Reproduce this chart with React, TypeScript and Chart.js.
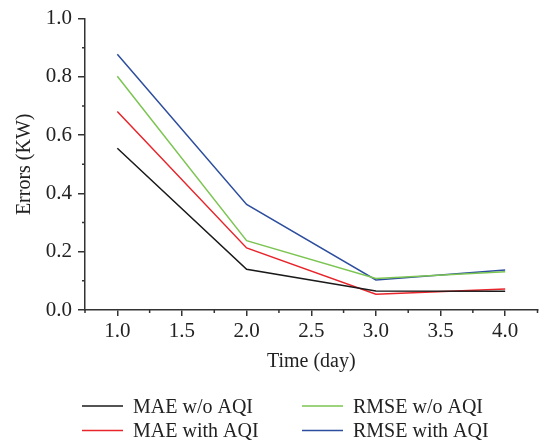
import React, { useEffect, useRef } from 'react';
import { Chart, registerables } from 'chart.js';

Chart.register(...registerables);

// ---- data ----
const days = [1, 2, 3, 4];
const maeWithoutAqi = [0.555, 0.14, 0.065, 0.064];
const maeWithAqi = [0.681, 0.213, 0.054, 0.072];
const rmseWithoutAqi = [0.802, 0.238, 0.108, 0.131];
const rmseWithAqi = [0.878, 0.362, 0.103, 0.137];

const seriesLabels = ['MAE w/o AQI', 'MAE with AQI', 'RMSE w/o AQI', 'RMSE with AQI'];
const seriesColors = ['#1a1a1a', '#e8252b', '#7cc552', '#2d4e9e'];

const xMajorTicks = [1, 1.5, 2, 2.5, 3, 3.5, 4];
const xMinorTicks = [0.75, 1.25, 1.75, 2.25, 2.75, 3.25, 3.75, 4.25];
const yMajorTicks = [0, 0.2, 0.4, 0.6, 0.8, 1.0];
const yMinorTicks = [0.1, 0.3, 0.5, 0.7, 0.9];

const xTitle = 'Time (day)';
const yTitle = 'Errors (KW)';

const FONT_FAMILY = '"Liberation Serif", "Times New Roman", Times, serif';
const AXIS_COLOR = '#333333';
const TEXT_COLOR = '#222222';

const minorTicksPlugin = {
  id: 'minorTicks',
  afterDraw(chart: any) {
    const { ctx, scales } = chart;
    const xs = scales.x;
    const ys = scales.y;
    ctx.save();
    ctx.strokeStyle = AXIS_COLOR;
    ctx.lineWidth = 1.5;
    ctx.beginPath();
    xMinorTicks.forEach((v) => {
      const px = xs.getPixelForValue(v);
      ctx.moveTo(px, ys.bottom);
      ctx.lineTo(px, ys.bottom + 3);
    });
    yMinorTicks.forEach((v) => {
      const py = ys.getPixelForValue(v);
      ctx.moveTo(xs.left - 3, py);
      ctx.lineTo(xs.left, py);
    });
    ctx.stroke();
    ctx.restore();
  },
};

const gridLegendPlugin = {
  id: 'gridLegend',
  afterDraw(chart: any) {
    const { ctx, chartArea } = chart;
    const datasets = chart.data.datasets;
    const colX = [chartArea.left - 3, chartArea.left + 217];
    const rowY = [406, 430.5];
    const lineLen = 41;
    const gap = 10;
    ctx.save();
    ctx.font = `20px ${FONT_FAMILY}`;
    ctx.fillStyle = TEXT_COLOR;
    ctx.textAlign = 'left';
    ctx.textBaseline = 'alphabetic';
    datasets.forEach((ds: any, i: number) => {
      const col = Math.floor(i / 2);
      const row = i % 2;
      const x = colX[col];
      const y = rowY[row];
      ctx.strokeStyle = ds.borderColor;
      ctx.lineWidth = 1.5;
      ctx.beginPath();
      ctx.moveTo(x, y);
      ctx.lineTo(x + lineLen, y);
      ctx.stroke();
      ctx.fillText(ds.label, x + lineLen + gap, y + 6.5);
    });
    ctx.restore();
  },
};

export default function App() {
  const canvasRef = useRef<HTMLCanvasElement | null>(null);

  useEffect(() => {
    if (!canvasRef.current) return;
    const seriesValues = [maeWithoutAqi, maeWithAqi, rmseWithoutAqi, rmseWithAqi];
    const datasets = seriesValues.map((vals, i) => ({
      label: seriesLabels[i],
      data: days.map((d, j) => ({ x: d, y: vals[j] })),
      borderColor: seriesColors[i],
      backgroundColor: seriesColors[i],
      borderWidth: 1.5,
      pointRadius: 0,
      tension: 0,
      fill: false,
    }));

    const tickFont = { family: FONT_FAMILY, size: 21 };

    const chart = new Chart(canvasRef.current, {
      type: 'line',
      data: { datasets },
      options: {
        animation: false,
        responsive: true,
        maintainAspectRatio: false,
        layout: { padding: { left: 0, right: 2.5, top: 13.5, bottom: 70 } },
        plugins: {
          legend: { display: false },
          tooltip: { enabled: false },
        },
        scales: {
          x: {
            type: 'linear',
            min: 0.75,
            max: 4.25,
            afterBuildTicks: (scale: any) => {
              scale.ticks = xMajorTicks.map((v) => ({ value: v }));
            },
            afterFit: (scale: any) => {
              scale.height = 64;
            },
            ticks: {
              font: tickFont,
              color: TEXT_COLOR,
              padding: 3,
              maxRotation: 0,
              autoSkip: false,
              callback: (v: any) => Number(v).toFixed(1),
            },
            grid: {
              display: true,
              drawOnChartArea: false,
              drawTicks: true,
              tickLength: 6,
              color: AXIS_COLOR,
              lineWidth: 1.5,
            },
            border: { display: true, color: AXIS_COLOR, width: 1.5 },
            title: {
              display: true,
              text: xTitle,
              font: { family: FONT_FAMILY, size: 20 },
              color: TEXT_COLOR,
              padding: { top: 0, bottom: 0 },
            },
          },
          y: {
            type: 'linear',
            min: 0,
            max: 1,
            afterBuildTicks: (scale: any) => {
              scale.ticks = yMajorTicks.map((v) => ({ value: v }));
            },
            afterFit: (scale: any) => {
              scale.width = 85;
            },
            ticks: {
              font: tickFont,
              color: TEXT_COLOR,
              padding: 6,
              autoSkip: false,
              callback: (v: any) => Number(v).toFixed(1),
            },
            grid: {
              display: true,
              drawOnChartArea: false,
              drawTicks: true,
              tickLength: 7,
              color: AXIS_COLOR,
              lineWidth: 1.5,
            },
            border: { display: true, color: AXIS_COLOR, width: 1.5 },
            title: {
              display: true,
              text: yTitle,
              font: { family: FONT_FAMILY, size: 20 },
              color: TEXT_COLOR,
              padding: { top: 13, bottom: 0 },
            },
          },
        },
      },
      plugins: [minorTicksPlugin, gridLegendPlugin],
    });

    return () => {
      chart.destroy();
    };
  }, []);

  return (
    <div
      style={{
        position: 'fixed',
        left: 0,
        top: 0,
        width: 540,
        height: 444,
        background: '#ffffff',
      }}
    >
      <canvas ref={canvasRef} />
    </div>
  );
}
